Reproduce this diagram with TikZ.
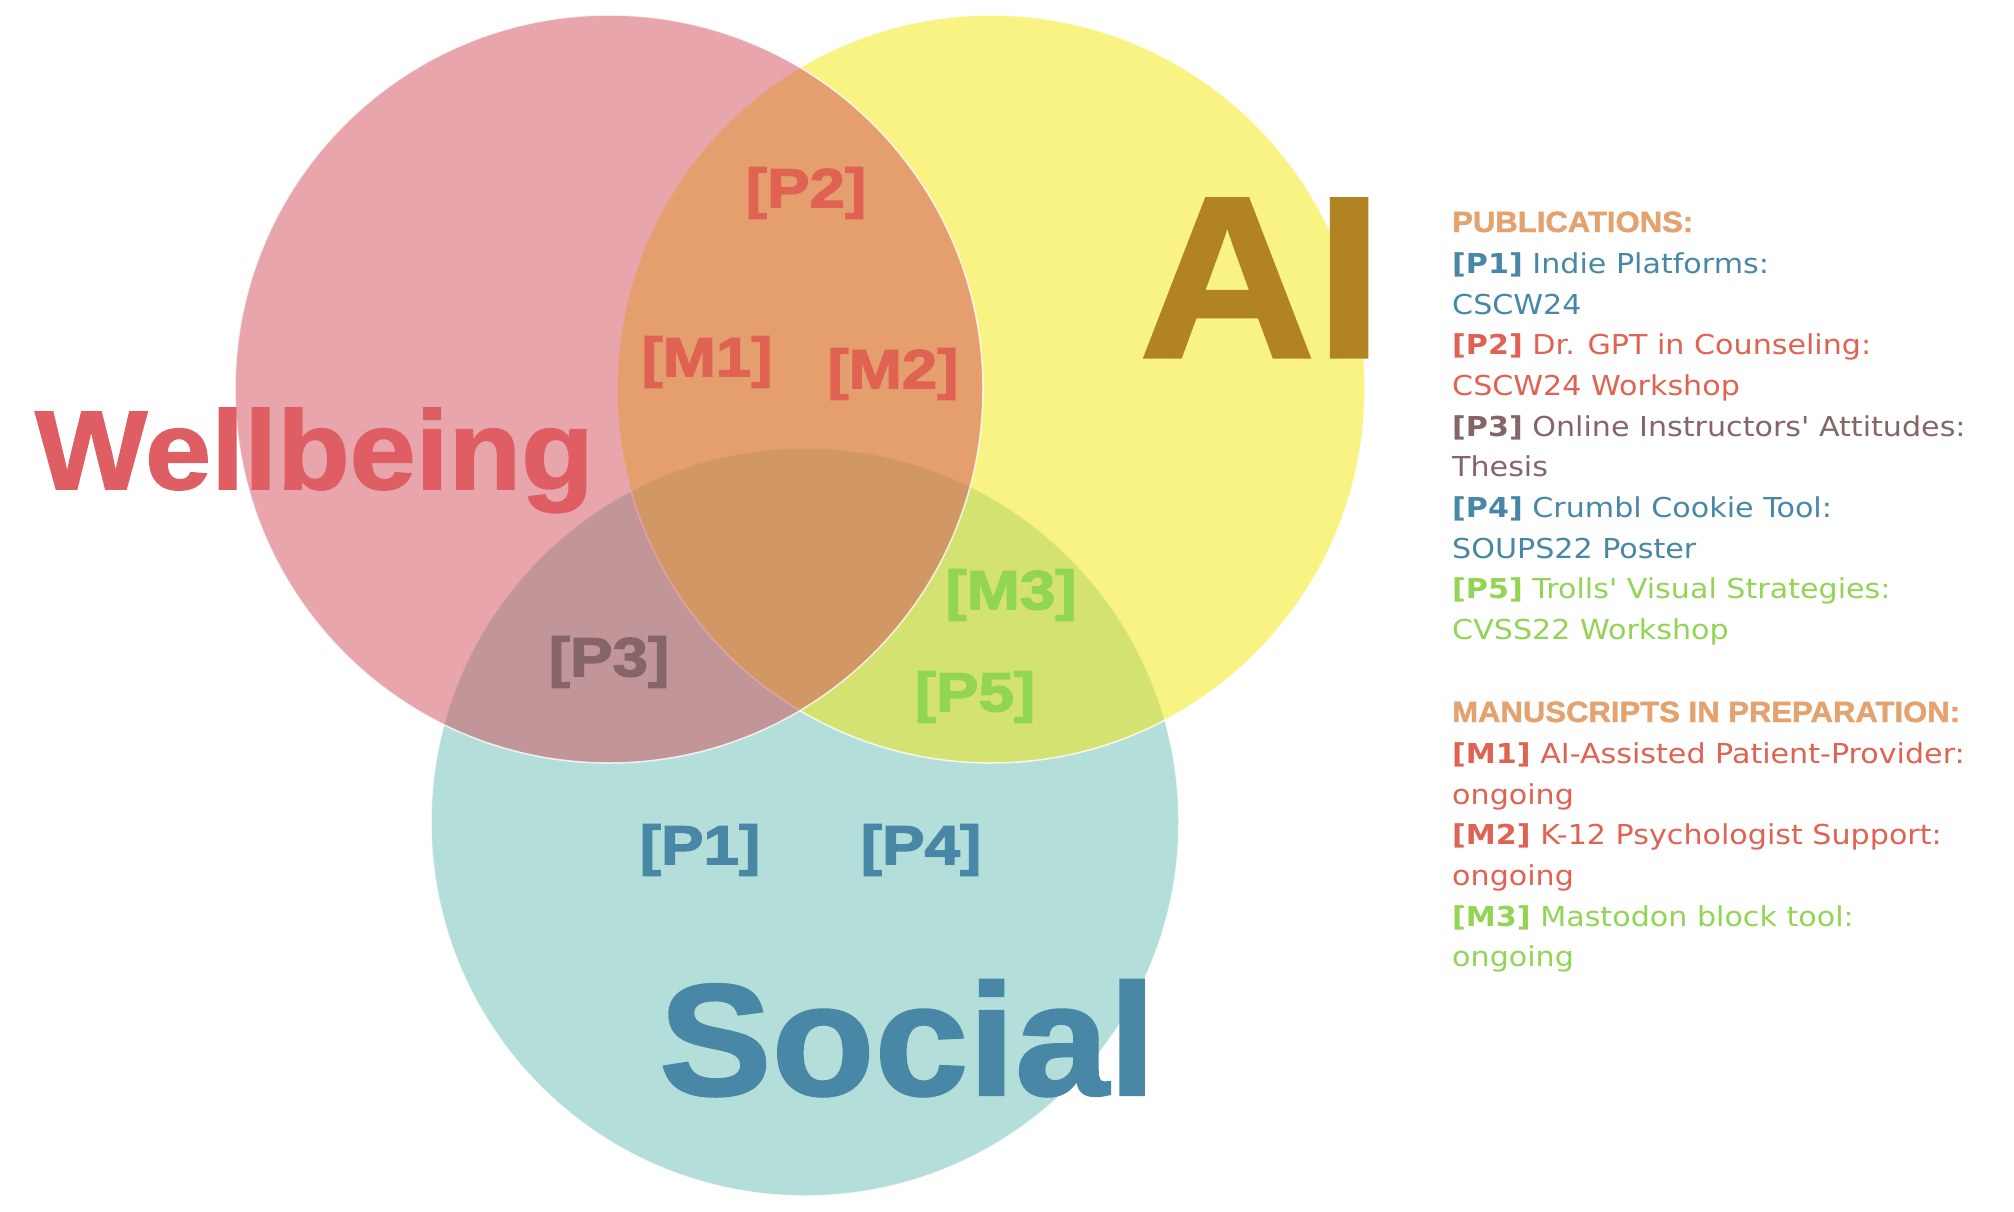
\documentclass[tikz,border=0pt]{standalone}
\usepackage{fontspec}
\usetikzlibrary{positioning}
\newfontfamily\headfont[FakeStretch=1.06,FakeBold=1.5]{Liberation Sans Bold}
\newfontfamily\tagfont[FakeStretch=1.16,FakeBold=2.5]{Liberation Sans Bold}
\newfontfamily\legfont[FakeStretch=1.1]{DejaVu Sans}
\definecolor{wellfill}{RGB}{209,77,89}
\definecolor{aifill}{RGB}{243,231,9}
\definecolor{socfill}{RGB}{105,189,181}
\definecolor{wellred}{RGB}{222,94,100}
\definecolor{aigold}{RGB}{178,131,34}
\definecolor{socblue}{RGB}{72,135,166}
\definecolor{tagred}{RGB}{224,98,82}
\definecolor{taggrey}{RGB}{133,101,104}
\definecolor{taggreen}{RGB}{146,212,84}
\definecolor{headtan}{RGB}{227,162,110}

\begin{document}
\begin{tikzpicture}[
  x=1pt, y=-1pt,
  setcircle/.style={circle, minimum size=748pt, inner sep=0pt,
                    fill opacity=0.5, draw=white, line width=1.5pt, draw opacity=0.8},
  bigword/.style={anchor=base west, inner sep=0pt},
  tag/.style={inner sep=0pt, font=\tagfont\fontsize{55}{55}\selectfont},
  legline/.style={anchor=base west, inner sep=0pt,
                  font=\legfont\fontsize{27.4}{40}\selectfont},
  leghead/.style={legline, font=\headfont\fontsize{29.3}{29.3}\selectfont, text=headtan},
]
  \useasboundingbox (0,0) rectangle (2014,1211);

  % the three sets
  \node[setcircle, fill=socfill]  (social) at (805,822) {};
  \node[setcircle, fill=aifill]   (ai)     at (991,389) {};
  \node[setcircle, fill=wellfill] (well)   at (609,389) {};

  % set names
  \node[bigword, font=\headfont\fontsize{112}{112}\selectfont, text=wellred]
    (welltitle) at (35,489) {Wellbeing};
  \node[bigword, font=\headfont\fontsize{230}{230}\selectfont, text=aigold]
    (aititle) at (1139,357) {AI};
  \node[bigword, font=\headfont\fontsize{159}{159}\selectfont, text=socblue]
    (soctitle) at (659,1095) {Social};

  % items in the regions
  \node[tag, text=tagred]   (p2) at (806,193) {[P2]};
  \node[tag, text=tagred]   (m1) at (707,362) {[M1]};
  \node[tag, text=tagred]   (m2) at (893,374) {[M2]};
  \node[tag, text=taggreen] (m3) at (1011,595) {[M3]};
  \node[tag, text=taggrey]  (p3) at (609,662) {[P3]};
  \node[tag, text=taggreen] (p5) at (975,697) {[P5]};
  \node[tag, text=socblue]  (p1) at (700,850) {[P1]};
  \node[tag, text=socblue]  (p4) at (921,850) {[P4]};

  % legend
  \node[leghead] (pubhead) at (1452,232) {PUBLICATIONS:};
  \foreach \yy/\col/\txt [count=\i] in {
      273/socblue/{\textbf{[P1]} Indie Platforms:},
      314/socblue/{CSCW24},
      354/tagred/{\textbf{[P2]} Dr. GPT in Counseling:},
      395/tagred/{CSCW24 Workshop},
      436/taggrey/{\textbf{[P3]} Online Instructors' Attitudes:},
      476/taggrey/{Thesis},
      517/socblue/{\textbf{[P4]} Crumbl Cookie Tool:},
      558/socblue/{SOUPS22 Poster},
      598/taggreen/{\textbf{[P5]} Trolls' Visual Strategies:},
      639/taggreen/{CVSS22 Workshop}}
    \node[legline, text=\col] (pub\i) at (1452,\yy) {\txt};

  \node[leghead] (manhead) at (1452,722) {MANUSCRIPTS IN PREPARATION:};
  \foreach \yy/\col/\txt [count=\i] in {
      763/tagred/{\textbf{[M1]} AI-Assisted Patient-Provider:},
      804/tagred/{ongoing},
      844/tagred/{\textbf{[M2]} K-12 Psychologist Support:},
      885/tagred/{ongoing},
      926/taggreen/{\textbf{[M3]} Mastodon block tool:},
      966/taggreen/{ongoing}}
    \node[legline, text=\col] (man\i) at (1452,\yy) {\txt};
\end{tikzpicture}
\end{document}
